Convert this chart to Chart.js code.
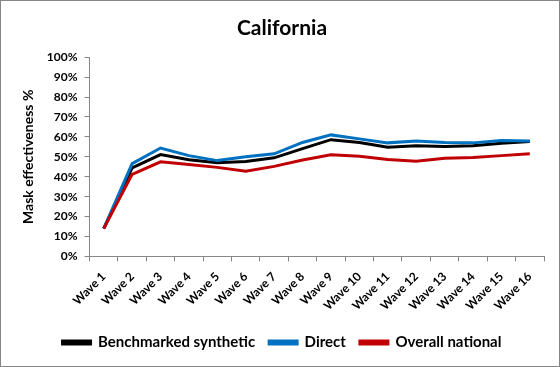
<!DOCTYPE html>
<html>
<head>
<meta charset="utf-8">
<script src="https://cdn.jsdelivr.net/npm/chart.js@4"></script>
<style>
html,body{margin:0;padding:0;background:#fff;}
#wrap{width:560px;height:367px;position:relative;}
</style>
</head>
<body>
<div id="wrap"><canvas id="c" width="560" height="367"></canvas></div>
<script>
const categories = ["Wave 1","Wave 2","Wave 3","Wave 4","Wave 5","Wave 6","Wave 7","Wave 8","Wave 9","Wave 10","Wave 11","Wave 12","Wave 13","Wave 14","Wave 15","Wave 16"];
const benchmarkedSynthetic = [14, 44.5, 51.1, 48.5, 47, 47.6, 49.5, 54.1, 58.6, 57.2, 54.8, 55.5, 55.2, 55.5, 56.8, 57.7];
const direct = [14, 46.6, 54.4, 50.6, 48.1, 50, 51.5, 57.2, 61, 59, 57, 57.9, 57.2, 57, 58.2, 57.9];
const overallNational = [14, 41.2, 47.5, 46.1, 44.7, 42.8, 45.2, 48.4, 51, 50.3, 48.6, 47.8, 49.3, 49.7, 50.6, 51.6];
const yTicks = [0,10,20,30,40,50,60,70,80,90,100];

const FONT = "Lato";
const frame = {
  id:'frame',
  afterDraw(chart){
    const ctx = chart.ctx;
    ctx.save();
    ctx.strokeStyle = '#868686';
    ctx.lineWidth = 1;
    ctx.strokeRect(0.5,0.5,chart.width-1,chart.height-1);
    ctx.restore();
  }
};

new Chart(document.getElementById('c'), {
  type: 'line',
  data: {
    labels: categories,
    datasets: [
      {label:'Benchmarked synthetic', data:benchmarkedSynthetic, borderColor:'#000000', backgroundColor:'#000000', borderWidth:3, pointRadius:0, tension:0, order:3},
      {label:'Direct', data:direct, borderColor:'#0070C0', backgroundColor:'#0070C0', borderWidth:3, pointRadius:0, tension:0, order:2},
      {label:'Overall national', data:overallNational, borderColor:'#C00000', backgroundColor:'#C00000', borderWidth:3, pointRadius:0, tension:0, order:1}
    ]
  },
  options: {
    responsive:false,
    animation:false,
    devicePixelRatio:1,
    layout:{padding:{left:20, right:16, top:0, bottom:7}},
    plugins:{
      tooltip:{enabled:false},
      title:{display:true, text:'California', color:'#000', font:{family:FONT, size:21, weight:'bold'}, padding:{top:16, bottom:16}},
      legend:{
        position:'bottom',
        labels:{
          color:'#000',
          font:{family:FONT, size:15, weight:'bold'},
          boxWidth:28, boxHeight:3, padding:14,
          sort:(a,b)=>a.datasetIndex-b.datasetIndex
        }
      }
    },
    scales:{
      x:{
        offset:true,
        grid:{offset:true, drawOnChartArea:false, drawTicks:true, tickLength:5, color:'#868686'},
        border:{color:'#868686', width:1},
        ticks:{color:'#000', font:{family:FONT, size:12, weight:'bold'}, maxRotation:45, minRotation:45, autoSkip:false, padding:8}
      },
      y:{
        min:0, max:100,
        afterBuildTicks(scale){ scale.ticks = yTicks.map(v=>({value:v})); },
        grid:{drawOnChartArea:false, drawTicks:true, tickLength:5, color:'#868686'},
        border:{color:'#868686', width:1},
        ticks:{color:'#000', font:{family:FONT, size:12, weight:'bold'}, padding:7, callback:v=>v+'%'},
        title:{display:true, text:'Mask effectiveness %', color:'#000', font:{family:FONT, size:14, weight:'bold'}, padding:{top:0,bottom:3}}
      }
    }
  },
  plugins:[frame]
});
</script>
</body>
</html>
